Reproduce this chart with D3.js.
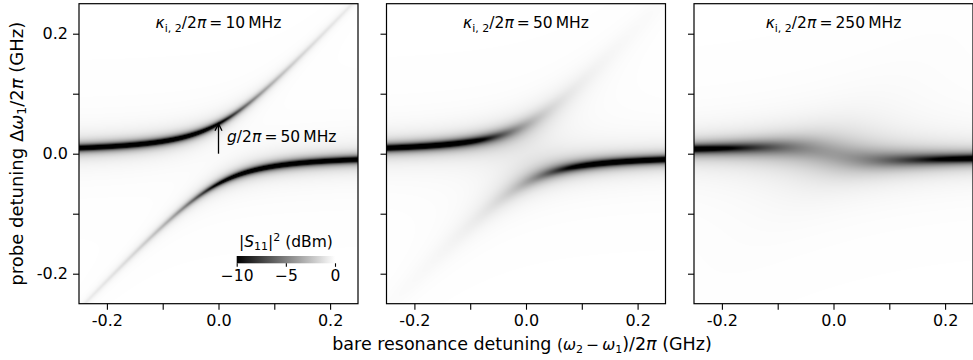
<!DOCTYPE html>
<html>
<head>
<meta charset="utf-8">
<script src="https://cdn.jsdelivr.net/npm/d3@7"></script>
<style>
  body { margin: 0; background: #fff; }
  svg { display: block; }
  text { font-family: "DejaVu Sans", sans-serif; fill: #000; }
</style>
</head>
<body>
<svg id="chart" width="973" height="360"></svg>
<script>
// values (all in GHz)
const kappaI2 = [0.010, 0.050, 0.250];          // internal loss of resonator 2, one per panel
const kappaI2Labels = ["10", "50", "250"];       // MHz, as written in the panel titles
const coupling = 0.050;                          // g/2pi
const kappaE1 = 0.011, kappaI1 = 0.009;          // resonator 1 (probed) external / internal loss
const detuningDomain = [-0.25, 0.25];
const xTicks = [-0.2, -0.1, 0, 0.1, 0.2];
const xTickLabels = ["-0.2", "", "0.0", "", "0.2"];
const yTicks = [-0.2, -0.1, 0, 0.1, 0.2];
const yTickLabels = ["-0.2", "", "0.0", "", "0.2"];
const cbDomain = [-10, 0];
const cbTicks = [-10, -5, 0];
const cbTickLabels = ["\u221210", "\u22125", "0"];

const svg = d3.select("#chart");
const margin = { left: 79, top: 3.7 };
const panelW = 279, panelH = 300, gap = 28.5;

const x = d3.scaleLinear().domain(detuningDomain).range([0, panelW]);
const y = d3.scaleLinear().domain(detuningDomain).range([panelH, 0]);
const color = d3.scaleLinear().domain(cbDomain).range(["#000000", "#ffffff"]).clamp(true);

// reflection |S11|^2 in dB of resonator 1 coupled to resonator 2
function s11dB(probe, bare, k2) {
  const k1 = kappaE1 + kappaI1;
  const a = k2 / 2, b = -(probe - bare);
  const m = a * a + b * b;
  const g2 = coupling * coupling;
  const dRe = k1 / 2 + g2 * a / m;
  const dIm = -probe - g2 * b / m;
  const dd = dRe * dRe + dIm * dIm;
  const sRe = 1 - kappaE1 * dRe / dd;
  const sIm = kappaE1 * dIm / dd;
  return 10 * Math.log10(sRe * sRe + sIm * sIm + 1e-12);
}

function heatmapURL(k2) {
  const canvas = document.createElement("canvas");
  canvas.width = panelW; canvas.height = panelH;
  const ctx = canvas.getContext("2d");
  const img = ctx.createImageData(panelW, panelH);
  for (let py = 0; py < panelH; py++) {
    const probe = y.invert(py + 0.5);
    for (let px = 0; px < panelW; px++) {
      const bare = x.invert(px + 0.5);
      const c = d3.rgb(color(s11dB(probe, bare, k2)));
      const i = (py * panelW + px) * 4;
      img.data[i] = c.r; img.data[i + 1] = c.g; img.data[i + 2] = c.b; img.data[i + 3] = 255;
    }
  }
  ctx.putImageData(img, 0, 0);
  return canvas.toDataURL();
}

kappaI2.forEach((k2, p) => {
  const g = svg.append("g")
    .attr("transform", `translate(${margin.left + p * (panelW + gap)},${margin.top})`);

  g.append("image")
    .attr("width", panelW).attr("height", panelH)
    .attr("preserveAspectRatio", "none")
    .attr("href", heatmapURL(k2));

  const xAxis = g.append("g")
    .attr("transform", `translate(0,${panelH})`)
    .call(d3.axisBottom(x).tickValues(xTicks).tickFormat((d, i) => xTickLabels[i])
      .tickSize(6).tickSizeOuter(0).tickPadding(5));
  const yAxis = g.append("g")
    .call(d3.axisLeft(y).tickValues(yTicks).tickFormat((d, i) => p === 0 ? yTickLabels[i] : "")
      .tickSize(6).tickSizeOuter(0).tickPadding(5));
  [xAxis, yAxis].forEach(ax => {
    ax.select(".domain").remove();
    ax.selectAll("line").attr("stroke", "#000").attr("stroke-width", 1.1);
    ax.selectAll("text").style("font-size", "16px").attr("fill", "#000");
  });

  g.append("rect")
    .attr("width", panelW).attr("height", panelH)
    .attr("fill", "none").attr("stroke", "#000").attr("stroke-width", 1.2);

  // panel title
  const t = g.append("text")
    .attr("x", panelW / 2).attr("y", 24)
    .attr("text-anchor", "middle").style("font-size", "15.5px");
  t.append("tspan").attr("font-style", "italic").text("\u03ba");
  t.append("tspan").attr("font-size", "11px").attr("dy", 4).text("i, 2");
  t.append("tspan").attr("dy", -4).text("/2");
  t.append("tspan").attr("font-style", "italic").text("\u03c0");
  t.append("tspan").text("\u2009=\u2009" + kappaI2Labels[p] + "\u2009MHz");

  if (p === 0) {
    // coupling arrow and label
    g.append("line")
      .attr("x1", x(0)).attr("x2", x(0))
      .attr("y1", y(0)).attr("y2", y(coupling) + 1)
      .attr("stroke", "#000").attr("stroke-width", 1.3);
    g.append("path")
      .attr("d", `M${x(0) - 3.5},${y(coupling) + 7}L${x(0)},${y(coupling)}L${x(0) + 3.5},${y(coupling) + 7}`)
      .attr("fill", "none").attr("stroke", "#000").attr("stroke-width", 1.3);
    const a = g.append("text")
      .attr("x", x(0) + 8.5).attr("y", y(coupling / 2) + 3)
      .style("font-size", "15.5px");
    a.append("tspan").attr("font-style", "italic").text("g");
    a.append("tspan").text("/2");
    a.append("tspan").attr("font-style", "italic").text("\u03c0");
    a.append("tspan").text("\u2009=\u2009" + (coupling * 1000) + "\u2009MHz");

    // colour bar
    const cbX = d3.scaleLinear().domain(cbDomain).range([157.7, 256]);
    const cbY = 252.3, cbH = 7.3;
    const grad = svg.append("defs").append("linearGradient").attr("id", "cbgrad");
    d3.range(0, 1.0001, 0.1).forEach(f => {
      grad.append("stop").attr("offset", f).attr("stop-color", color(cbDomain[0] + f * (cbDomain[1] - cbDomain[0])));
    });
    g.append("rect")
      .attr("x", cbX(cbDomain[0])).attr("y", cbY)
      .attr("width", cbX(cbDomain[1]) - cbX(cbDomain[0])).attr("height", cbH)
      .attr("fill", "url(#cbgrad)");
    const cbAxis = g.append("g")
      .attr("transform", `translate(0,${cbY + cbH})`)
      .call(d3.axisBottom(cbX).tickValues(cbTicks).tickFormat((d, i) => cbTickLabels[i])
        .tickSize(3.5).tickSizeOuter(0).tickPadding(3.5));
    cbAxis.select(".domain").remove();
    cbAxis.selectAll("line").attr("stroke", "#000").attr("stroke-width", 1.1);
    cbAxis.selectAll("text").style("font-size", "15.5px").attr("fill", "#000");
    const ct = g.append("text")
      .attr("x", (cbX(cbDomain[0]) + cbX(cbDomain[1])) / 2).attr("y", cbY - 9)
      .attr("text-anchor", "middle").style("font-size", "15.5px");
    ct.append("tspan").text("|");
    ct.append("tspan").attr("font-style", "italic").text("S");
    ct.append("tspan").attr("font-size", "11px").attr("dy", 3).text("11");
    ct.append("tspan").attr("dy", -3).text("|");
    ct.append("tspan").attr("font-size", "11px").attr("dy", -6).text("2");
    ct.append("tspan").attr("dy", 6).text(" (dBm)");
  }
});

// axis labels
const yl = svg.append("text")
  .attr("transform", `translate(23,${margin.top + panelH / 2}) rotate(-90)`)
  .attr("text-anchor", "middle").style("font-size", "18px");
yl.append("tspan").text("probe detuning \u0394");
yl.append("tspan").attr("font-style", "italic").text("\u03c9");
yl.append("tspan").attr("font-size", "12.5px").attr("dy", 3).text("1");
yl.append("tspan").attr("dy", -3).text("/2");
yl.append("tspan").attr("font-style", "italic").text("\u03c0");
yl.append("tspan").text(" (GHz)");

const xl = svg.append("text")
  .attr("x", margin.left + (panelW + gap) + panelW / 2 - 4).attr("y", 350)
  .attr("text-anchor", "middle").style("font-size", "17.5px");
xl.append("tspan").text("bare resonance detuning ");
xl.append("tspan").attr("font-size", "15.5px").text("(");
xl.append("tspan").attr("font-size", "15.5px").attr("font-style", "italic").text("\u03c9");
xl.append("tspan").attr("font-size", "11px").attr("dy", 3).text("2");
xl.append("tspan").attr("font-size", "15.5px").attr("dy", -3).text("\u2009\u2212\u2009");
xl.append("tspan").attr("font-size", "15.5px").attr("font-style", "italic").text("\u03c9");
xl.append("tspan").attr("font-size", "11px").attr("dy", 3).text("1");
xl.append("tspan").attr("dy", -3).text(")/2");
xl.append("tspan").attr("font-style", "italic").text("\u03c0");
xl.append("tspan").text(" (GHz)");
</script>
</body>
</html>
